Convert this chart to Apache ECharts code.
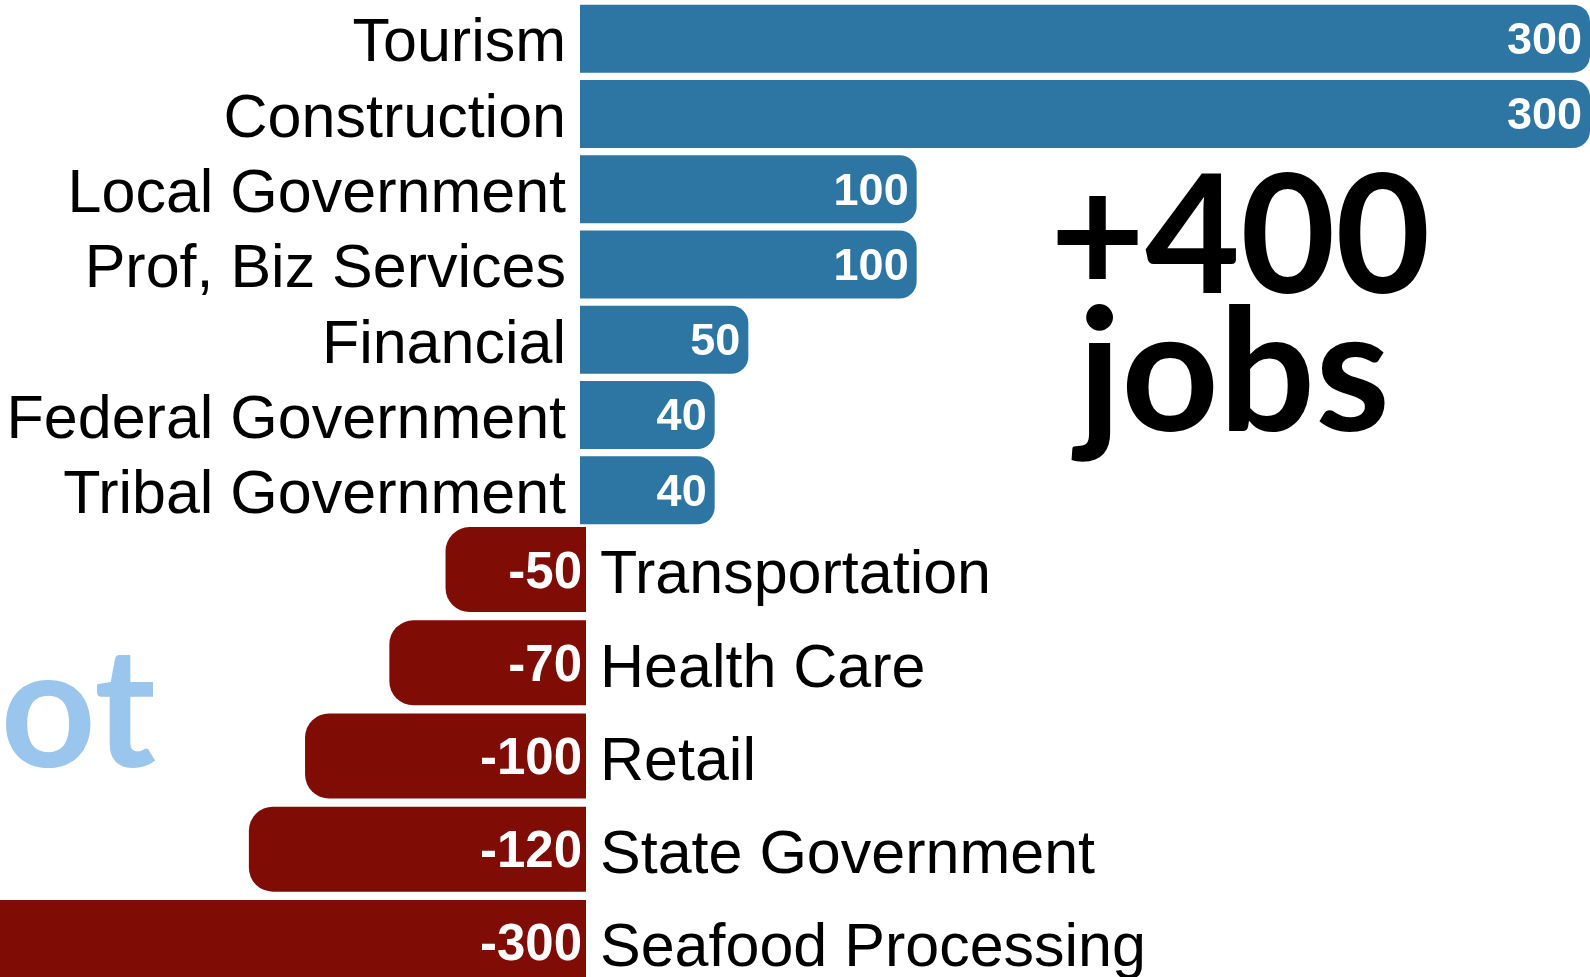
<!DOCTYPE html>
<html>
<head>
<meta charset="utf-8">
<title>Job changes by sector</title>
<script src="https://cdn.jsdelivr.net/npm/echarts@6/dist/echarts.min.js"></script>
<style>
  html, body { margin: 0; padding: 0; background: #fff; }
  #chart { width: 1590px; height: 977px; }
</style>
</head>
<body>
<div id="chart"></div>
<script>
// sectors that gained jobs (top block)
const gainSectors = ['Tourism', 'Construction', 'Local Government', 'Prof, Biz Services', 'Financial', 'Federal Government', 'Tribal Government'];
const gainValues = [300, 300, 100, 100, 50, 40, 40];
// sectors that lost jobs (bottom block)
const lossSectors = ['Transportation', 'Health Care', 'Retail', 'State Government', 'Seafood Processing'];
const lossValues = [-50, -70, -100, -120, -300];
// headline text
const headlineNumber = '+400';
const headlineUnit = 'jobs';
const fadedWord = 'ot';

const BLUE = '#2d75a2';
const RED = '#800d05';
const labelFont = '"Liberation Sans", Arial, Helvetica, sans-serif';
const bigFont = 'Lato, "Open Sans", sans-serif';

let chart = echarts.init(document.getElementById('chart'), null, { renderer: 'canvas' });

let options = {
  animation: false,
  backgroundColor: '#fff',
  grid: [
    // bottom grid runs off the left edge so the -300 bar is cut by the canvas
    { left: 580, right: 0, top: 1, height: 527, outerBoundsMode: 'none', containLabel: false },
    { left: -313, right: 1004, top: 523, height: 466, outerBoundsMode: 'none', containLabel: false }
  ],
  xAxis: [
    { gridIndex: 0, type: 'value', min: 0, max: 300, show: false },
    { gridIndex: 1, type: 'value', min: -320, max: 0, show: false }
  ],
  yAxis: [
    {
      gridIndex: 0,
      type: 'category',
      inverse: true,
      data: gainSectors,
      axisLine: { show: false },
      axisTick: { show: false },
      axisLabel: {
        interval: 0,
        margin: 14,
        // small line box hung from the top nudges the text a few px down
        verticalAlign: 'top',
        lineHeight: 12,
        color: '#000',
        fontSize: 61,
        fontFamily: labelFont
      }
    },
    {
      gridIndex: 1,
      type: 'category',
      inverse: true,
      position: 'right',
      data: lossSectors,
      axisLine: { show: false },
      axisTick: { show: false },
      axisLabel: {
        interval: 0,
        margin: 14,
        verticalAlign: 'top',
        lineHeight: 14,
        color: '#000',
        fontSize: 61,
        fontFamily: labelFont
      }
    }
  ],
  series: [
    {
      type: 'bar',
      xAxisIndex: 0,
      yAxisIndex: 0,
      data: gainValues,
      barWidth: 68,
      itemStyle: { color: BLUE, borderRadius: [0, 17, 17, 0] },
      label: {
        show: true,
        position: 'insideRight',
        distance: 8,
        verticalAlign: 'top',
        lineHeight: 6,
        color: '#fff',
        fontWeight: 'bold',
        fontSize: 45,
        fontFamily: labelFont
      }
    },
    {
      type: 'bar',
      xAxisIndex: 1,
      yAxisIndex: 1,
      data: lossValues,
      barWidth: 85,
      itemStyle: { color: RED, borderRadius: [24, 0, 0, 24] },
      label: {
        show: true,
        position: 'insideRight',
        distance: 4,
        verticalAlign: 'top',
        lineHeight: 8,
        color: '#fff',
        fontWeight: 'bold',
        fontSize: 51,
        fontFamily: labelFont
      }
    }
  ],
  graphic: [
    {
      type: 'text',
      x: 1050,
      y: 240,
      style: {
        text: headlineNumber,
        fill: '#000',
        fontSize: 164,
        fontWeight: 'bold',
        fontFamily: bigFont,
        textAlign: 'left',
        textVerticalAlign: 'middle'
      }
    },
    {
      type: 'text',
      x: 1078,
      y: 376,
      style: {
        text: headlineUnit,
        fill: '#000',
        fontSize: 170,
        fontWeight: 'bold',
        fontFamily: bigFont,
        textAlign: 'left',
        textVerticalAlign: 'middle'
      }
    },
    {
      type: 'text',
      x: 156,
      y: 713,
      style: {
        text: fadedWord,
        fill: '#9ac5ed',
        fontSize: 166,
        fontWeight: 'bold',
        fontFamily: bigFont,
        textAlign: 'right',
        textVerticalAlign: 'middle'
      }
    }
  ]
};

chart.setOption(options);
</script>
</body>
</html>
